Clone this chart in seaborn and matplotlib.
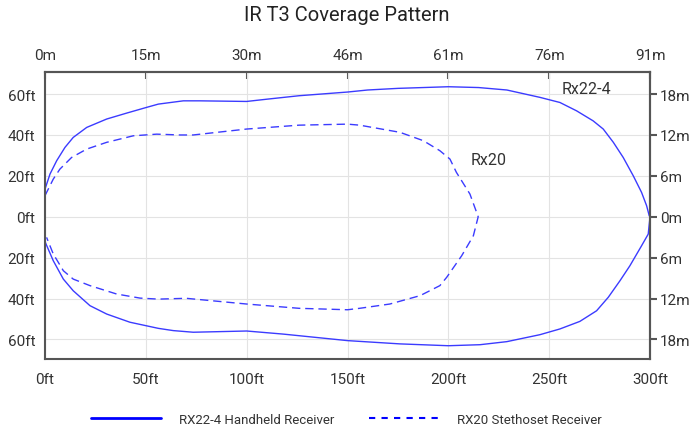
import matplotlib
matplotlib.use("Agg")
import matplotlib.pyplot as plt
from matplotlib.lines import Line2D
import numpy as np
import pandas as pd
import seaborn as sns

# Coverage outlines, in feet (x = distance, y = lateral offset, signed).
# Each outline goes along the top edge out to the tip, then back along the bottom edge.
rx22_x = [0, 2.5, 5.8, 9.9, 14, 20.7, 30.6, 40.5, 50.4, 56.2, 68.6, 76.8, 100, 110, 126, 150, 160, 175,
          200, 215, 229, 245.4, 255.3, 263.6, 271.8, 276.8, 281.8, 286.7, 291.7, 295.8, 298.3, 299.6, 300,
          299.1, 295.8, 290, 285.1, 279.3, 273.5, 265.2, 255.3, 245.4, 229, 215.7, 200, 176, 150, 118,
          100, 73.5, 63.6, 56.2, 42.1, 30.6, 22.3, 14, 9.1, 4.1, 0.5, 0]
rx22_y = [13.5, 20.9, 27.4, 33.9, 38.8, 43.7, 47.8, 50.7, 53.5, 55.1, 56.7, 56.7, 56.4, 57.5, 59.2, 61,
          62, 62.8, 63.6, 63.2, 62, 58.4, 55.9, 51.8, 46.9, 42.9, 36.4, 29, 20, 11.9, 5.4, 0.5, 0,
          -8.5, -14.2, -24, -31.3, -39.4, -46, -51.2, -54.9, -57.7, -61.1, -62.6, -63.1, -62.2, -60.6,
          -57.4, -55.9, -56.5, -55.7, -54.6, -51.6, -47.6, -43.5, -36.2, -30.5, -21.5, -13.3, -12]

rx20_x = [0, 4.1, 7.4, 13.2, 20.7, 30.6, 43.8, 55.4, 67, 73.5, 100, 126, 150, 156, 176, 187.6, 195.8,
          200.8, 204, 210.7, 214.8,
          212.4, 206.6, 199.2, 195.8, 186, 171, 156, 150, 126, 100, 70, 56.2, 47.1, 35.5, 22.3, 14,
          9.1, 4.1, 0.8]
rx20_y = [10.3, 18.4, 23.3, 29, 33.1, 36.4, 39.6, 40.4, 40, 40, 42.9, 44.8, 45.3, 44.8, 41.3, 37.2,
          32.3, 28.2, 21.7, 11.1, 0,
          -9.3, -19.1, -29.6, -33.7, -38.6, -42.7, -44.8, -45.5, -44.8, -42.7, -39.9, -40.3, -39.8,
          -37.8, -33.7, -30.5, -26.4, -18.2, -10.1]

ft_ticks = [0, 50, 100, 150, 200, 250, 300]
m_labels = ["0m", "15m", "30m", "46m", "61m", "76m", "91m"]
y_ticks = [-60, -40, -20, 0, 20, 40, 60]
y_m_labels = ["18m", "12m", "6m", "0m", "6m", "12m", "18m"]

legend_names = ["RX22-4 Handheld Receiver", "RX20 Stethoset Receiver"]

sns.set_style("white")
plt.rcParams["font.family"] = ["Roboto", "DejaVu Sans"]

df = pd.concat([
    pd.DataFrame({"x": rx22_x, "y": rx22_y, "rx": "RX22-4"}),
    pd.DataFrame({"x": rx20_x, "y": rx20_y, "rx": "RX20"}),
], ignore_index=True)

line_col = "#3b3bff"
spine_col = "#555555"
text_col = "#333333"

fig = plt.figure(figsize=(6.93, 4.31), dpi=100)
ax = fig.add_axes([0.0649, 0.1647, 0.8731, 0.6659])

sns.lineplot(data=df, x="x", y="y", hue="rx", style="rx", sort=False, estimator=None,
             palette={"RX22-4": line_col, "RX20": line_col},
             dashes={"RX22-4": "", "RX20": (6, 3.5)}, linewidth=1, legend=False, ax=ax)

ax.set_xlim(0, 300)
ax.set_ylim(-69.6, 70.8)
ax.set_xlabel("")
ax.set_ylabel("")
ax.set_xticks(ft_ticks)
ax.set_xticklabels([f"{t}ft" for t in ft_ticks])
ax.set_yticks(y_ticks)
ax.set_yticklabels([f"{abs(t)}ft" for t in y_ticks])
ax.grid(True, color="#e3e3e3", lw=0.8)
ax.set_axisbelow(True)
ax.tick_params(direction="in", length=5, width=1.5, color=spine_col, labelsize=11,
               labelcolor=text_col)
ax.tick_params(axis="x", pad=9)
ax.tick_params(axis="y", pad=7)
for s in ax.spines.values():
    s.set_color(spine_col)
    s.set_linewidth(1.5)

top = ax.secondary_xaxis("top")
top.set_xticks(ft_ticks)
top.set_xticklabels(m_labels)
top.tick_params(direction="in", length=5, width=1.5, color=spine_col, labelsize=11,
                labelcolor=text_col, pad=7)
top.spines["top"].set_color(spine_col)
top.spines["top"].set_linewidth(1.5)

right = ax.secondary_yaxis("right")
right.set_yticks(y_ticks)
right.set_yticklabels(y_m_labels)
right.tick_params(direction="out", length=5, width=1.5, color=spine_col, labelsize=11,
                  labelcolor=text_col, pad=2)
right.spines["right"].set_color(spine_col)
right.spines["right"].set_linewidth(1.5)

ax.text(268.6, 62.8, "Rx22-4", ha="center", va="center", fontsize=11.5, color=text_col)
ax.text(219.8, 27.9, "Rx20", ha="center", va="center", fontsize=11.5, color=text_col)

fig.text(0.5, 0.963, "IR T3 Coverage Pattern", ha="center", va="center", fontsize=14.5,
         color="#222222")

handles = [Line2D([], [], color="#0000ff", lw=2),
           Line2D([], [], color="#0000ff", lw=1.5, ls=(0, (3, 3)))]
fig.legend(handles, legend_names, loc="center", bbox_to_anchor=(0.5, 0.025), ncol=2,
           frameon=False, fontsize=9.5, handlelength=5.3, handletextpad=1.36, columnspacing=2.65,
           labelcolor=text_col)

fig.savefig("out.png", dpi=100)
